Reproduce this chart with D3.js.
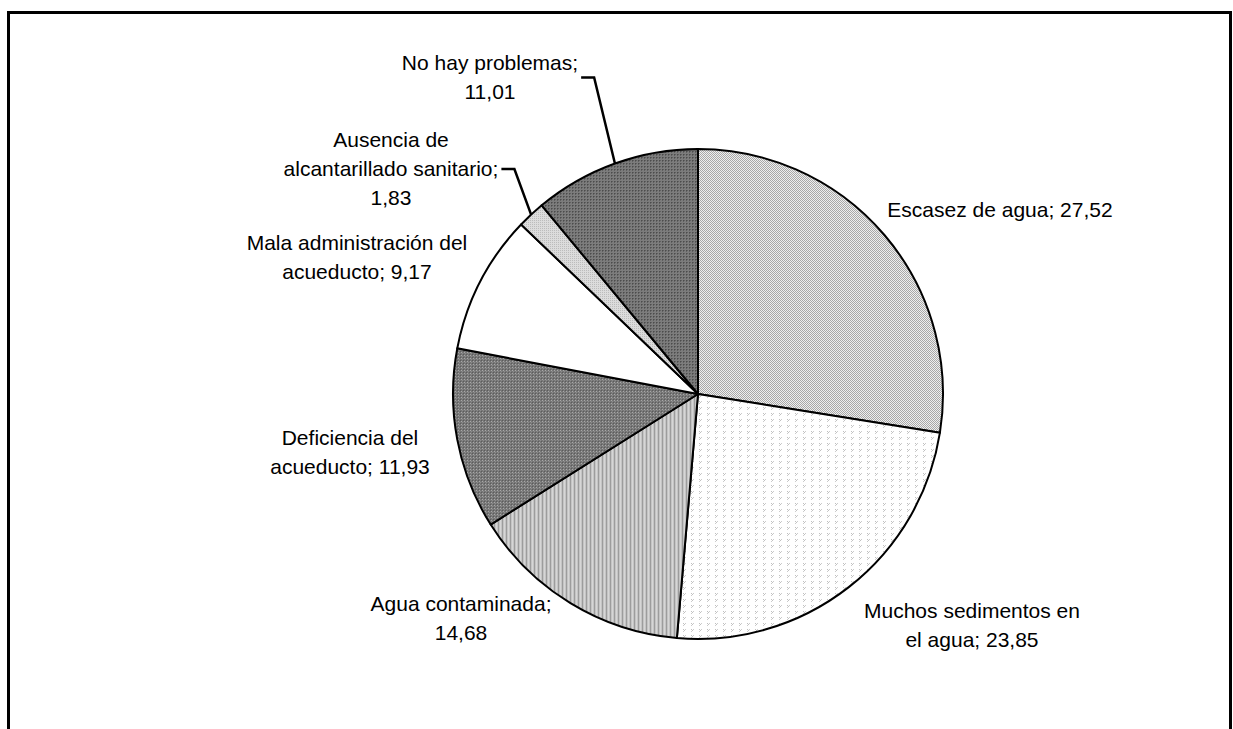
<!DOCTYPE html>
<html>
<head>
<meta charset="utf-8">
<script src="https://cdn.jsdelivr.net/npm/d3@7"></script>
<style>
  html, body { margin: 0; padding: 0; background: #fff; }
  svg { display: block; }
  text { font-family: "Liberation Sans", Arial, sans-serif; font-size: 21px; fill: #000; }
</style>
</head>
<body>
<svg id="chart" width="1233" height="729"></svg>
<script>
// Problemas del servicio de agua (%), clockwise from 12 o'clock
const categories = [
  "Escasez de agua",
  "Muchos sedimentos en el agua",
  "Agua contaminada",
  "Deficiencia del acueducto",
  "Mala administración del acueducto",
  "Ausencia de alcantarillado sanitario",
  "No hay problemas"
];
const values = [27.52, 23.85, 14.68, 11.93, 9.17, 1.83, 11.01];

// Words per label line
const labelWrap = [[4], [3, 3], [2, 1], [2, 2], [3, 2], [2, 2, 1], [3, 1]];
// Label block anchor: centre x and first baseline y
const labelPos = [
  [1000, 217], [972, 618], [461, 611], [350, 445], [357, 250], [391, 147], [490, 70]
];
const withLeader = [false, false, false, false, false, true, true];
const fills = ["p-checker", "p-sparse", "p-vstripe", "p-darkgrid", "white", "p-light", "p-darkdot"];

const svg = d3.select("#chart");
const cx = 698, cy = 394, R = 245;
const lineH = 29;

// ---- fill patterns ----
const defs = svg.append("defs");
function pattern(id, w, h, bg, pixels) {
  const p = defs.append("pattern").attr("id", id)
    .attr("patternUnits", "userSpaceOnUse").attr("width", w).attr("height", h);
  p.append("rect").attr("width", w).attr("height", h).attr("fill", bg);
  pixels.forEach(([x, y, c]) => p.append("rect")
    .attr("x", x).attr("y", y).attr("width", 1).attr("height", 1)
    .attr("fill", c).attr("shape-rendering", "crispEdges"));
}
pattern("p-checker", 2, 2, "#efefef", [[0, 0, "#a8a8a8"], [1, 1, "#a8a8a8"]]);
pattern("p-sparse", 8, 6, "#ffffff", [[1, 1, "#c0c0c0"], [3, 1, "#cccccc"], [1, 3, "#cccccc"], [2, 2, "#c0c0c0"]]);
pattern("p-vstripe", 4, 1, "#d6d6d6", [[0, 0, "#9c9c9c"], [1, 0, "#c4c4c4"], [3, 0, "#c4c4c4"]]);
pattern("p-darkgrid", 3, 3, "#767676", [[0, 0, "#a8a8a8"], [1, 1, "#8c8c8c"], [2, 2, "#5c5c5c"]]);
pattern("p-light", 2, 2, "#dcdcdc", [[0, 0, "#bcbcbc"]]);
pattern("p-darkdot", 3, 3, "#7c7c7c", [[0, 0, "#4c4c4c"], [1, 0, "#606060"], [0, 1, "#606060"]]);

// ---- outer frame (open at the bottom edge) ----
svg.append("rect")
  .attr("x", 8.5).attr("y", 12.5).attr("width", 1222).attr("height", 1000)
  .attr("fill", "none").attr("stroke", "#000").attr("stroke-width", 3);

// ---- pie ----
const pie = d3.pie().sort(null).value(d => d.v).startAngle(0).endAngle(2 * Math.PI);
const data = categories.map((c, i) => ({ c, v: values[i], i }));
const arcs = pie(data);
const arc = d3.arc().innerRadius(0).outerRadius(R);

const g = svg.append("g").attr("transform", `translate(${cx},${cy})`);
g.selectAll("path.slice").data(arcs).join("path")
  .attr("class", "slice")
  .attr("d", arc)
  .attr("fill", d => fills[d.index] === "white" ? "#ffffff" : `url(#${fills[d.index]})`)
  .attr("stroke", "#000").attr("stroke-width", 2).attr("stroke-linejoin", "round");

// ---- labels ----
const fmt = v => d3.format(".2f")(v).replace(".", ",");
arcs.forEach((a, i) => {
  const words = `${categories[i]}; ${fmt(values[i])}`.split(" ");
  const lines = [];
  let k = 0;
  labelWrap[i].forEach(n => { lines.push(words.slice(k, k + n).join(" ")); k += n; });
  const [lx, ly] = labelPos[i];
  const t = svg.append("text").attr("text-anchor", "middle");
  lines.forEach((ln, j) => t.append("tspan").attr("x", lx).attr("y", ly + j * lineH).text(ln));

  if (withLeader[i]) {
    let maxW = 0;
    t.selectAll("tspan").each(function () { maxW = Math.max(maxW, this.getComputedTextLength()); });
    const midY = ly - 7 + (lines.length - 1) * lineH / 2;
    const x0 = lx + maxW / 2 + 3;
    const mid = (a.startAngle + a.endAngle) / 2;
    const ex = cx + R * Math.sin(mid), ey = cy - R * Math.cos(mid);
    svg.append("path")
      .attr("d", `M${x0},${midY}H${x0 + 13}L${ex},${ey}`)
      .attr("fill", "none").attr("stroke", "#000").attr("stroke-width", 2.5);
  }
});
</script>
</body>
</html>
